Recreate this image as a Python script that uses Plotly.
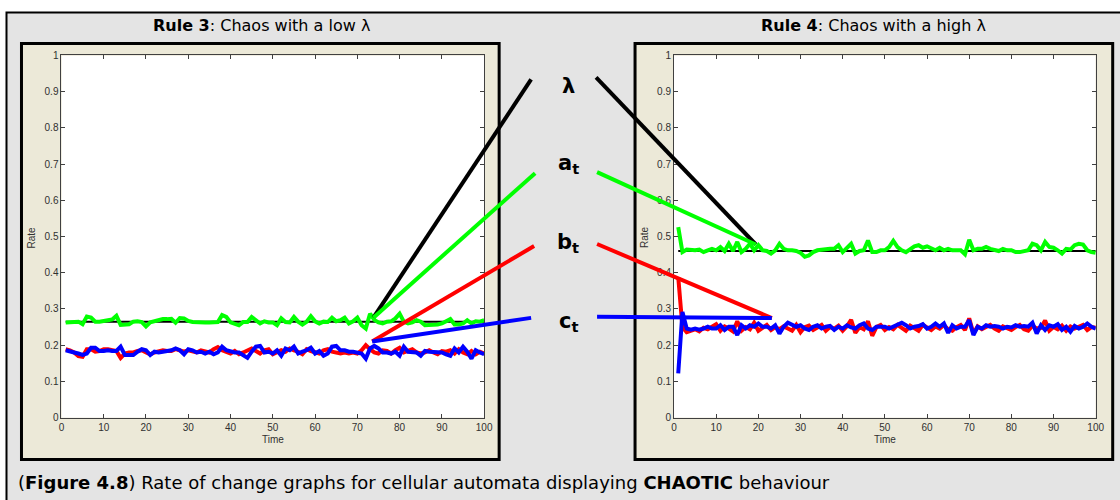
import plotly.graph_objects as go

W, H = 1120, 500

# ---------------- data ----------------
TIME = list(range(1, 101))
X_TICKS = [0, 10, 20, 30, 40, 50, 60, 70, 80, 90, 100]
Y_TICKS = [0, 0.1, 0.2, 0.3, 0.4, 0.5, 0.6, 0.7, 0.8, 0.9, 1]

# Rule 3 : chaos with a low lambda
R3_LAMBDA = 0.265
R3_A = [0.263, 0.263, 0.264, 0.265, 0.258, 0.279, 0.276, 0.265, 0.265, 0.266,
        0.269, 0.271, 0.281, 0.256, 0.257, 0.258, 0.265, 0.266, 0.264, 0.252,
        0.263, 0.266, 0.271, 0.272, 0.272, 0.273, 0.262, 0.275, 0.274, 0.267,
        0.264, 0.263, 0.263, 0.263, 0.263, 0.263, 0.264, 0.283, 0.278, 0.263,
        0.260, 0.255, 0.264, 0.264, 0.278, 0.269, 0.260, 0.266, 0.263, 0.263,
        0.255, 0.274, 0.264, 0.263, 0.278, 0.265, 0.257, 0.265, 0.280, 0.266,
        0.260, 0.265, 0.264, 0.276, 0.266, 0.269, 0.276, 0.260, 0.266, 0.276,
        0.255, 0.246, 0.287, 0.270, 0.263, 0.260, 0.265, 0.266, 0.274, 0.287,
        0.265, 0.260, 0.263, 0.269, 0.265, 0.255, 0.255, 0.255, 0.257, 0.260,
        0.266, 0.272, 0.257, 0.257, 0.260, 0.269, 0.260, 0.266, 0.265, 0.269]
R3_B = [0.189, 0.186, 0.180, 0.170, 0.168, 0.189, 0.189, 0.182, 0.184, 0.189,
        0.189, 0.186, 0.184, 0.165, 0.177, 0.180, 0.180, 0.184, 0.186, 0.180,
        0.175, 0.180, 0.184, 0.186, 0.184, 0.184, 0.189, 0.184, 0.182, 0.186,
        0.182, 0.180, 0.186, 0.184, 0.180, 0.189, 0.195, 0.186, 0.180, 0.177,
        0.184, 0.175, 0.180, 0.186, 0.191, 0.184, 0.177, 0.186, 0.189, 0.175,
        0.180, 0.186, 0.182, 0.191, 0.186, 0.182, 0.175, 0.189, 0.184, 0.180,
        0.177, 0.186, 0.189, 0.182, 0.180, 0.177, 0.180, 0.177, 0.180, 0.177,
        0.186, 0.200, 0.189, 0.180, 0.177, 0.186, 0.184, 0.177, 0.186, 0.193,
        0.180, 0.184, 0.189, 0.180, 0.177, 0.180, 0.186, 0.180, 0.175, 0.184,
        0.182, 0.186, 0.177, 0.189, 0.180, 0.175, 0.184, 0.175, 0.182, 0.177]
R3_C = [0.186, 0.182, 0.180, 0.177, 0.173, 0.177, 0.193, 0.193, 0.184, 0.184,
        0.186, 0.184, 0.184, 0.196, 0.173, 0.173, 0.173, 0.182, 0.189, 0.186,
        0.173, 0.182, 0.180, 0.182, 0.184, 0.186, 0.191, 0.186, 0.175, 0.189,
        0.186, 0.180, 0.182, 0.177, 0.182, 0.175, 0.180, 0.196, 0.186, 0.182,
        0.180, 0.180, 0.173, 0.165, 0.182, 0.196, 0.198, 0.180, 0.182, 0.177,
        0.186, 0.171, 0.191, 0.186, 0.196, 0.177, 0.182, 0.186, 0.193, 0.177,
        0.184, 0.171, 0.177, 0.196, 0.198, 0.186, 0.186, 0.182, 0.182, 0.180,
        0.177, 0.163, 0.191, 0.198, 0.191, 0.180, 0.180, 0.177, 0.182, 0.171,
        0.196, 0.182, 0.180, 0.180, 0.171, 0.184, 0.182, 0.182, 0.180, 0.180,
        0.175, 0.171, 0.191, 0.180, 0.196, 0.182, 0.163, 0.186, 0.180, 0.175]

# Rule 4 : chaos with a high lambda
R4_LAMBDA = 0.46
R4_A = [0.526, 0.457, 0.464, 0.462, 0.462, 0.464, 0.457, 0.462, 0.466, 0.462,
        0.471, 0.460, 0.480, 0.460, 0.485, 0.457, 0.466, 0.480, 0.462, 0.476,
        0.462, 0.460, 0.453, 0.462, 0.480, 0.466, 0.462, 0.462, 0.460, 0.455,
        0.444, 0.448, 0.457, 0.462, 0.464, 0.466, 0.466, 0.466, 0.476, 0.457,
        0.469, 0.480, 0.453, 0.460, 0.462, 0.489, 0.457, 0.457, 0.462, 0.462,
        0.471, 0.488, 0.471, 0.462, 0.457, 0.466, 0.473, 0.476, 0.469, 0.473,
        0.466, 0.462, 0.469, 0.462, 0.466, 0.462, 0.462, 0.462, 0.451, 0.491,
        0.462, 0.466, 0.466, 0.471, 0.466, 0.462, 0.460, 0.466, 0.462, 0.462,
        0.457, 0.457, 0.460, 0.462, 0.480, 0.476, 0.462, 0.485, 0.471, 0.469,
        0.462, 0.453, 0.466, 0.464, 0.476, 0.480, 0.478, 0.462, 0.457, 0.455]
R4_B = [0.388, 0.250, 0.236, 0.240, 0.244, 0.238, 0.248, 0.244, 0.252, 0.258,
        0.240, 0.252, 0.246, 0.238, 0.266, 0.240, 0.250, 0.244, 0.262, 0.240,
        0.248, 0.256, 0.242, 0.250, 0.244, 0.252, 0.246, 0.240, 0.256, 0.236,
        0.250, 0.254, 0.242, 0.248, 0.256, 0.240, 0.250, 0.246, 0.254, 0.240,
        0.252, 0.270, 0.234, 0.250, 0.244, 0.266, 0.226, 0.250, 0.256, 0.242,
        0.250, 0.244, 0.256, 0.248, 0.240, 0.254, 0.246, 0.240, 0.256, 0.248,
        0.242, 0.252, 0.246, 0.256, 0.244, 0.240, 0.250, 0.256, 0.242, 0.274,
        0.232, 0.252, 0.244, 0.250, 0.256, 0.246, 0.240, 0.252, 0.246, 0.242,
        0.250, 0.256, 0.244, 0.240, 0.254, 0.246, 0.248, 0.268, 0.240, 0.250,
        0.244, 0.254, 0.240, 0.252, 0.246, 0.250, 0.256, 0.242, 0.250, 0.248]
R4_C = [0.122, 0.292, 0.246, 0.243, 0.246, 0.243, 0.246, 0.251, 0.246, 0.246,
        0.255, 0.242, 0.251, 0.251, 0.228, 0.255, 0.246, 0.255, 0.251, 0.260,
        0.251, 0.251, 0.246, 0.255, 0.232, 0.251, 0.262, 0.255, 0.251, 0.255,
        0.246, 0.242, 0.251, 0.255, 0.246, 0.251, 0.253, 0.242, 0.251, 0.246,
        0.255, 0.249, 0.246, 0.255, 0.260, 0.246, 0.242, 0.251, 0.251, 0.251,
        0.246, 0.251, 0.258, 0.262, 0.255, 0.246, 0.251, 0.253, 0.258, 0.246,
        0.251, 0.260, 0.251, 0.260, 0.234, 0.255, 0.246, 0.251, 0.251, 0.269,
        0.228, 0.251, 0.246, 0.255, 0.251, 0.253, 0.251, 0.246, 0.251, 0.249,
        0.255, 0.251, 0.253, 0.251, 0.262, 0.232, 0.255, 0.242, 0.255, 0.251,
        0.258, 0.242, 0.251, 0.237, 0.253, 0.246, 0.251, 0.260, 0.251, 0.246]

PANEL_TITLES = ["<b>Rule 3</b>: Chaos with a low λ", "<b>Rule 4</b>: Chaos with a high λ"]
LABELS = ["<b>λ</b>", "<b>a<sub>t</sub></b>", "<b>b<sub>t</sub></b>", "<b>c<sub>t</sub></b>"]
CAPTION = "(<b>Figure 4.8</b>) Rate of change graphs for cellular automata displaying <b>CHAOTIC</b> behaviour"

# ---------------- layout geometry (pixels of the target picture) ----------------
# small correction for the way the page is photographed
AX, BX = 0.99, 1.5
AY, BY = 0.978, 3.5


def px(x):
    return ((x - BX) / AX) / W


def py(y):
    return 1 - ((y - BY) / AY) / H


PLOT_X = {"L": (60, 483), "R": (673, 1095)}
PLOT_Y = (53, 416)            # top, bottom


def data_px(panel, t, v):
    x0, x1 = PLOT_X[panel]
    return x0 + (x1 - x0) * t / 100.0, PLOT_Y[1] - (PLOT_Y[1] - PLOT_Y[0]) * v


GREEN, RED, BLUE, BLACK = "#00ff00", "#ff0000", "#0000ff", "#000000"
BEIGE, GRAY = "#ece9d8", "#e4e4e4"
TICK_GRAY = "#303030"

fig = go.Figure()

for panel, lam, a, b, c in [("L", R3_LAMBDA, R3_A, R3_B, R3_C),
                            ("R", R4_LAMBDA, R4_A, R4_B, R4_C)]:
    xa = "x" if panel == "L" else "x2"
    ya = "y" if panel == "L" else "y2"
    fig.add_trace(go.Scatter(x=[TIME[0], TIME[-1]], y=[lam, lam], mode="lines",
                             line=dict(color=BLACK, width=2), xaxis=xa, yaxis=ya))
    fig.add_trace(go.Scatter(x=TIME, y=a, mode="lines",
                             line=dict(color=GREEN, width=4), xaxis=xa, yaxis=ya))
    fig.add_trace(go.Scatter(x=TIME, y=b, mode="lines",
                             line=dict(color=RED, width=4), xaxis=xa, yaxis=ya))
    fig.add_trace(go.Scatter(x=TIME, y=c, mode="lines",
                             line=dict(color=BLUE, width=4), xaxis=xa, yaxis=ya))

axis_common = dict(showgrid=False, zeroline=False, showline=True, mirror="ticks",
                   linecolor="#404040", linewidth=1, ticks="inside", ticklen=4,
                   tickcolor="#404040", tickwidth=1,
                   tickfont=dict(family="Liberation Sans, Arial", size=10, color=TICK_GRAY))

shapes = [
    # outer frame
    dict(type="rect", xref="paper", yref="paper", x0=px(5), x1=px(1140), y0=py(520), y1=py(10),
         fillcolor=GRAY, line=dict(color=BLACK, width=2), layer="below"),
    # panel boxes
    dict(type="rect", xref="paper", yref="paper", x0=px(20), x1=px(498), y0=py(458), y1=py(41),
         fillcolor=BEIGE, line=dict(color=BLACK, width=3), layer="below"),
    dict(type="rect", xref="paper", yref="paper", x0=px(634), x1=px(1112), y0=py(458), y1=py(41),
         fillcolor=BEIGE, line=dict(color=BLACK, width=3), layer="below"),
    # white plot areas
    dict(type="rect", xref="x", yref="y", x0=0, x1=100, y0=0, y1=1,
         fillcolor="white", line=dict(width=0), layer="below"),
    dict(type="rect", xref="x2", yref="y2", x0=0, x1=100, y0=0, y1=1,
         fillcolor="white", line=dict(width=0), layer="below"),
]

# leader lines: (colour, label end in px, panel, anchor time, anchor rate)
LEADERS = [
    (BLACK, (530, 77), "L", 73.8, 0.276), (BLACK, (595, 75), "R", 19.4, 0.478),
    (GREEN, (534, 171), "L", 73.8, 0.276), (GREEN, (596, 170), "R", 19.4, 0.478),
    (RED, (533, 244), "L", 73.5, 0.210), (RED, (596, 242), "R", 23.2, 0.275),
    (BLUE, (530, 316), "L", 73.5, 0.210), (BLUE, (596, 315), "R", 23.2, 0.275),
]
for col, (lx, ly), panel, t, v in LEADERS:
    ax_, ay_ = data_px(panel, t, v)
    shapes.append(dict(type="line", xref="paper", yref="paper",
                       x0=px(lx), y0=py(ly), x1=px(ax_), y1=py(ay_),
                       line=dict(color=col, width=4), layer="above"))

annotations = []
for title, cx in zip(PANEL_TITLES, [260, 873]):
    annotations.append(dict(text=title, x=px(cx), y=py(23), xref="paper", yref="paper",
                            showarrow=False, xanchor="center", yanchor="middle",
                            font=dict(family="DejaVu Sans", size=16, color="black")))
for lab, ly in zip(LABELS, [84, 162, 241, 320]):
    annotations.append(dict(text=lab, x=px(567), y=py(ly), xref="paper", yref="paper",
                            showarrow=False, xanchor="center", yanchor="middle",
                            font=dict(family="DejaVu Sans", size=21, color="black")))
for panel in ["L", "R"]:
    x0, x1 = PLOT_X[panel]
    annotations.append(dict(text="Time", x=px((x0 + x1) / 2), y=py(438), xref="paper", yref="paper",
                            showarrow=False, xanchor="center", yanchor="middle",
                            font=dict(family="Liberation Sans, Arial", size=10, color=TICK_GRAY)))
    annotations.append(dict(text="Rate", x=px(x0 - 30), y=py(235), xref="paper", yref="paper",
                            showarrow=False, xanchor="center", yanchor="middle", textangle=-90,
                            font=dict(family="Liberation Sans, Arial", size=10, color=TICK_GRAY)))
annotations.append(dict(text=CAPTION, x=px(15), y=py(481), xref="paper", yref="paper",
                        showarrow=False, xanchor="left", yanchor="middle",
                        font=dict(family="DejaVu Sans", size=18, color="black")))

fig.update_layout(
    width=W, height=H, margin=dict(l=0, r=0, t=0, b=0),
    paper_bgcolor="white", plot_bgcolor="rgba(0,0,0,0)", showlegend=False,
    xaxis=dict(domain=[px(PLOT_X["L"][0]), px(PLOT_X["L"][1])], range=[0, 100],
               tickvals=X_TICKS, anchor="y", **axis_common),
    yaxis=dict(domain=[py(PLOT_Y[1]), py(PLOT_Y[0])], range=[0, 1],
               tickvals=Y_TICKS, anchor="x", **axis_common),
    xaxis2=dict(domain=[px(PLOT_X["R"][0]), px(PLOT_X["R"][1])], range=[0, 100],
                tickvals=X_TICKS, anchor="y2", **axis_common),
    yaxis2=dict(domain=[py(PLOT_Y[1]), py(PLOT_Y[0])], range=[0, 1],
                tickvals=Y_TICKS, anchor="x2", **axis_common),
    shapes=shapes, annotations=annotations,
)

fig.write_html("out.html", config={"displayModeBar": False},
               post_script="document.body.style.margin='0';document.body.style.overflow='hidden';")
